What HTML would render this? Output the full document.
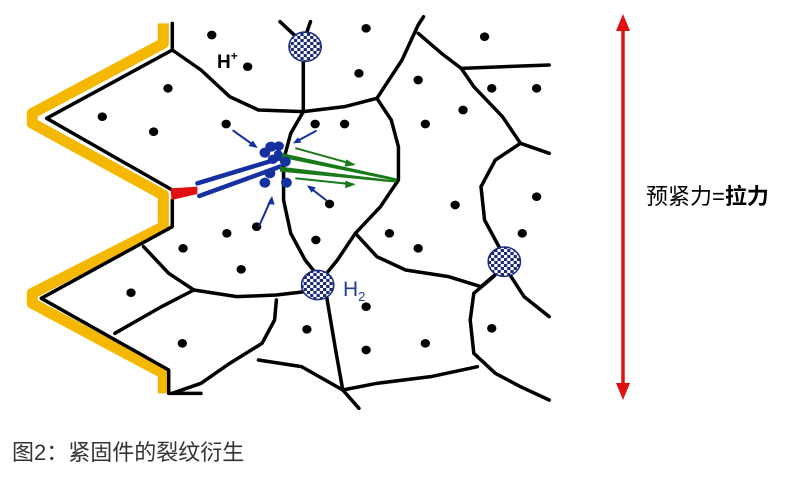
<!DOCTYPE html>
<html><head><meta charset="utf-8"><style>
html,body{margin:0;padding:0;background:#fff;width:811px;height:477px;overflow:hidden}
svg{position:absolute;left:0;top:0}
</style></head><body>
<svg width="811" height="477" viewBox="0 0 811 477" xmlns="http://www.w3.org/2000/svg">
<defs>
<pattern id="ck" width="18" height="18" patternUnits="userSpaceOnUse">
<rect width="18" height="18" fill="#fff"/><rect width="9" height="9" fill="#1a2a7a"/><rect x="9" y="9" width="9" height="9" fill="#1a2a7a"/>
</pattern>
</defs>
<g transform="scale(0.35894,0.33333)" fill="none" stroke-linejoin="round" stroke-linecap="round">
<polyline points="455,70 455,130 90,340 90,370 455,585 455,680 90,880 90,910 455,1120 455,1180" stroke="#f5b800" stroke-width="11" stroke-linecap="butt" vector-effect="non-scaling-stroke"/>
<g stroke="#000" stroke-width="3.5">
<polyline vector-effect="non-scaling-stroke" points="480,70 480,150 130,355 480,570"/>
<polyline vector-effect="non-scaling-stroke" points="480,600 480,680 115,895 470,1110 470,1180 560,1180"/>
<polyline vector-effect="non-scaling-stroke" points="480,150 560,210 640,290 720,330 845,335 960,320 1050,295 1120,180 1165,75 1180,50"/>
<polyline vector-effect="non-scaling-stroke" points="845,180 845,335"/>
<polyline vector-effect="non-scaling-stroke" points="845,335 810,400 790,480 790,600 810,700 850,780 880,820"/>
<polyline vector-effect="non-scaling-stroke" points="1050,295 1090,360 1110,440 1110,540 1060,620 990,700 940,780 910,820"/>
<polyline vector-effect="non-scaling-stroke" points="1165,100 1230,160 1285,205 1530,195"/>
<polyline vector-effect="non-scaling-stroke" points="1285,205 1320,260 1400,350 1450,430 1530,460"/>
<polyline vector-effect="non-scaling-stroke" points="1450,430 1380,480 1340,560 1350,660 1400,760"/>
<polyline vector-effect="non-scaling-stroke" points="990,700 1050,770 1130,810 1250,830 1340,860 1395,810"/>
<polyline vector-effect="non-scaling-stroke" points="1415,815 1460,890 1530,950"/>
<polyline vector-effect="non-scaling-stroke" points="1375,830 1320,880 1310,960 1320,1060 1380,1120 1450,1160 1530,1200"/>
<polyline vector-effect="non-scaling-stroke" points="1330,1100 1200,1130 1050,1150 955,1170 935,1050 910,890"/>
<polyline vector-effect="non-scaling-stroke" points="720,1080 840,1100 955,1170 1000,1225"/>
<polyline vector-effect="non-scaling-stroke" points="400,740 470,820 540,870 660,890 770,885 850,875"/>
<polyline vector-effect="non-scaling-stroke" points="540,870 450,920 320,1000"/>
<polyline vector-effect="non-scaling-stroke" points="770,900 765,960 730,1030 640,1090 560,1150 480,1180"/>
<polyline vector-effect="non-scaling-stroke" points="780,65 830,115"/>
<polyline vector-effect="non-scaling-stroke" points="865,65 852,105"/>
</g>
<g fill="#000" stroke="none">
<ellipse cx="590" cy="105" rx="13" ry="13"/><ellipse cx="1020" cy="85" rx="13" ry="13"/><ellipse cx="1350" cy="110" rx="13" ry="13"/>
<ellipse cx="690" cy="200" rx="13" ry="13"/><ellipse cx="1000" cy="220" rx="13" ry="13"/><ellipse cx="1165" cy="240" rx="13" ry="13"/>
<ellipse cx="1370" cy="265" rx="13" ry="13"/><ellipse cx="1495" cy="265" rx="13" ry="13"/><ellipse cx="468" cy="265" rx="13" ry="13"/>
<ellipse cx="285" cy="350" rx="13" ry="13"/><ellipse cx="428" cy="395" rx="13" ry="13"/><ellipse cx="630" cy="372" rx="13" ry="13"/>
<ellipse cx="878" cy="372" rx="13" ry="13"/><ellipse cx="960" cy="372" rx="13" ry="13"/><ellipse cx="1185" cy="372" rx="13" ry="13"/>
<ellipse cx="1290" cy="330" rx="13" ry="13"/><ellipse cx="1495" cy="590" rx="13" ry="13"/><ellipse cx="1268" cy="615" rx="13" ry="13"/>
<ellipse cx="918" cy="612" rx="13" ry="13"/><ellipse cx="715" cy="680" rx="13" ry="13"/><ellipse cx="632" cy="700" rx="13" ry="13"/>
<ellipse cx="510" cy="745" rx="13" ry="13"/><ellipse cx="880" cy="720" rx="13" ry="13"/><ellipse cx="1085" cy="700" rx="13" ry="13"/>
<ellipse cx="1165" cy="745" rx="13" ry="13"/><ellipse cx="1455" cy="700" rx="13" ry="13"/><ellipse cx="672" cy="808" rx="13" ry="13"/>
<ellipse cx="365" cy="878" rx="13" ry="13"/><ellipse cx="1020" cy="920" rx="13" ry="13"/><ellipse cx="855" cy="988" rx="13" ry="13"/>
<ellipse cx="1370" cy="985" rx="13" ry="13"/><ellipse cx="508" cy="1030" rx="13" ry="13"/><ellipse cx="1020" cy="1050" rx="13" ry="13"/>
<ellipse cx="1185" cy="1030" rx="13" ry="13"/>
</g>
<polygon points="475,565 550,560 550,582 478,600" fill="#e01010" stroke="none"/>
<polyline points="550,550 780,475" stroke="#1530a0" stroke-width="4.5" vector-effect="non-scaling-stroke"/>
<polyline points="555,588 780,500" stroke="#1530a0" stroke-width="4.5" vector-effect="non-scaling-stroke"/>
<polygon points="780,458 1105,535 1105,548 780,515 780,500 1090,540 780,472" fill="#1a7a1a" stroke="none"/>
<polyline points="825,445 985,493" stroke="#1a7a1a" stroke-width="2" vector-effect="non-scaling-stroke"/>
<polygon points="990,495 965,478 960,500" fill="#1a7a1a"/>
<polyline points="825,535 985,553" stroke="#1a7a1a" stroke-width="2" vector-effect="non-scaling-stroke"/>
<polygon points="990,553 962,542 962,565" fill="#1a7a1a"/>
<g fill="#1530a0" stroke="none">
<ellipse cx="755" cy="440" rx="16" ry="15"/><ellipse cx="777" cy="438" rx="14" ry="14"/><ellipse cx="738" cy="458" rx="15" ry="15"/>
<ellipse cx="760" cy="478" rx="14" ry="14"/><ellipse cx="795" cy="485" rx="15" ry="15"/><ellipse cx="752" cy="520" rx="15" ry="15"/>
<ellipse cx="738" cy="548" rx="15" ry="15"/><ellipse cx="798" cy="548" rx="15" ry="15"/><ellipse cx="775" cy="462" rx="12" ry="12"/>
</g>
<g stroke="#1530a0" stroke-width="2">
<polyline vector-effect="non-scaling-stroke" points="650,392 710,438"/><polyline vector-effect="non-scaling-stroke" points="880,393 825,425"/>
<polyline vector-effect="non-scaling-stroke" points="908,600 862,562"/><polyline vector-effect="non-scaling-stroke" points="722,678 755,598"/>
</g>
<g fill="#1530a0" stroke="none">
<polygon points="718,444 692,438 705,422"/><polygon points="816,430 830,412 840,428"/>
<polygon points="855,556 880,562 868,578"/><polygon points="758,588 745,612 765,614"/>
</g>
<g stroke="#1a2a7a" stroke-width="1.5" fill="url(#ck)">
<ellipse cx="850" cy="140" rx="45" ry="44" vector-effect="non-scaling-stroke"/>
<ellipse cx="885" cy="855" rx="45" ry="44" vector-effect="non-scaling-stroke"/>
<ellipse cx="1405" cy="785" rx="45" ry="44" vector-effect="non-scaling-stroke"/>
</g>
</g>
<text x="217" y="68" font-family="Liberation Sans, sans-serif" font-weight="bold" font-size="19" fill="#000">H<tspan font-size="12" dy="-8">+</tspan></text>
<text x="343" y="296" font-family="Liberation Sans, sans-serif" font-size="21" fill="#1f3f9f">H<tspan font-size="13" dy="5">2</tspan></text>
<line x1="623" y1="26" x2="623" y2="388" stroke="#e01010" stroke-width="3.5"/>
<polygon points="623,14 616,31 630,31" fill="#e01010"/>
<polygon points="623,400 616,383 630,383" fill="#e01010"/>
<text x="646" y="204" font-family="Liberation Sans, 'Noto Sans CJK SC', sans-serif" font-size="22" fill="#000">预紧力=<tspan font-weight="bold">拉力</tspan></text>
<text x="12" y="460" font-family="Liberation Sans, 'Noto Sans CJK SC', sans-serif" font-size="22" fill="#333">图2：紧固件的裂纹衍生</text>
</svg>
</body></html>
